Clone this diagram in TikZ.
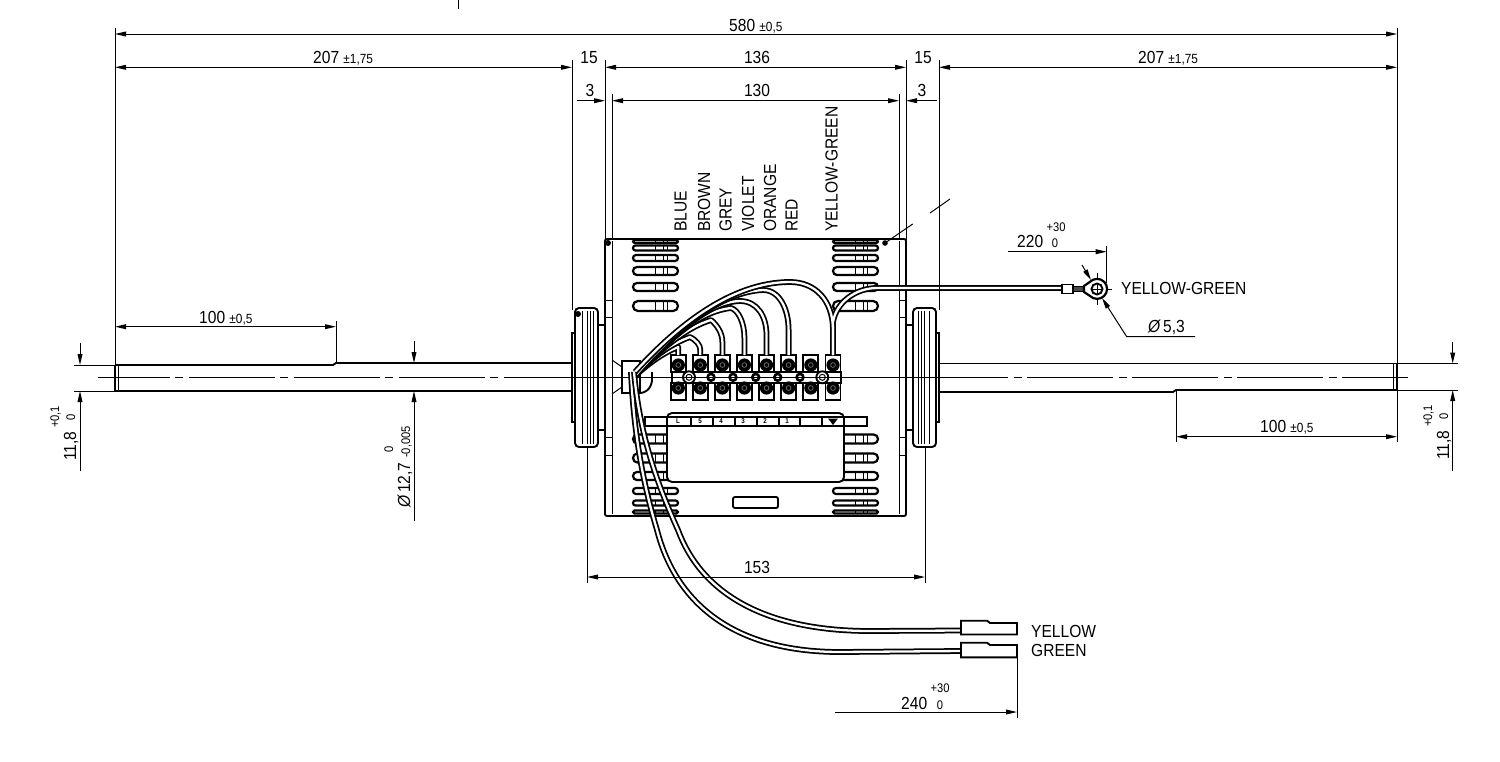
\documentclass[tikz,border=0pt]{standalone}
\usepackage{fontspec}
\setmainfont[FakeStretch=0.89]{Liberation Sans}
\usetikzlibrary{arrows.meta}
\tikzset{
    part/.style={line width=1.9pt, black},
    dim/.style={line width=1pt, black},
    thin part/.style={line width=1pt, black},
    wire/.style={line width=5.8pt, black},
    wire core/.style={line width=2.3pt, white},
    main/.style={font=\fontsize{17.5}{18}\selectfont, inner sep=0pt},
    small/.style={font=\fontsize{12.5}{13}\selectfont, inner sep=0pt},
    mark text/.style={font=\bfseries\fontsize{7}{7}\selectfont, inner sep=0pt},
    centerline/.style={line width=1pt, dash pattern=on 86pt off 5pt on 8pt off 6pt}
}
\newcommand{\wirepath}[1]{
    \draw[wire, line join=round] #1;
    \draw[wire core, line join=round] #1;
}
\newcommand{\tol}[1]{\hspace{1pt}{\fontsize{13.3}{14}\selectfont #1}}
\begin{document}
\begin{tikzpicture}[x=1pt, y=-1pt, >={Stealth[length=11pt, width=4.8pt, inset=0pt]}]
    \useasboundingbox (0,0) rectangle (1500,761);

    % Shaft.
    \draw[part] (115,365) -- (333,365) -- (336,363) -- (572,363);
    \draw[part] (115,391) -- (572,391);
    \draw[part] (939,363.5) -- (1397,363.5);
    \draw[part] (939,392) -- (1173,392) -- (1176,390) -- (1397,390);
    \draw[line width=2.4pt] (115,365) -- (115,391);
    \draw[thin part] (118.5,365) -- (118.5,391);
    \draw[line width=2.4pt] (1397,363.5) -- (1397,390);
    \draw[thin part] (1393.5,363.5) -- (1393.5,390);
    \draw[thin part] (74,365) -- (115,365);
    \draw[thin part] (74,391) -- (115,391);
    \draw[thin part] (1397,363.5) -- (1458,363.5);
    \draw[thin part] (1397,390) -- (1458,390);

    % End bells.
    \foreach \s/\o in {1/0,-1/1511} {
        \begin{scope}[xshift=\o pt, xscale=\s]
            \draw[part, rounded corners=4pt, fill=white] (575,308) rectangle (598,447);
            \draw[line width=2.6pt, fill=white] (572,333) rectangle (575,422);
            \draw[part] (598,325) -- (605,325);
            \draw[part] (598,430) -- (605,430);
            \foreach \x in {582,587,590,593}
                \draw[thin part] (\x,311) -- (\x,444);
        \end{scope}
    }
    \fill (578,314) circle (3pt);

    % Motor body.
    \draw[part, rounded corners=2pt, fill=white] (605,239) rectangle (906,516);
    \foreach \x in {612,899} {
        \draw[thin part] (\x,241) -- (\x,514);
    }
    \foreach \y in {300,317,437,455} {
        \draw[thin part] (605,\y) -- (612,\y);
        \draw[thin part] (899,\y) -- (906,\y);
    }
    \fill (608,243) circle (3pt);
    \fill (885,243) circle (2.8pt);

    % Slots.
    \foreach \sx in {633,833} {
        \foreach \sy/\sh in {241.5/3,248/5,258/6,271/8,287/8,306/10,439/9,458/9,476/8,491/6,503/5,512/3} {
            \draw[part, line width=2.2pt, rounded corners=\sh*0.49pt, fill=white] (\sx,\sy-\sh/2) rectangle (\sx+45,\sy+\sh/2);
            \foreach \t in {22,30,34}
                \draw[thin part] (\sx+\t,\sy-\sh/2) -- (\sx+\t,\sy+\sh/2);
        }
    }
    \draw[part, rounded corners=2pt] (733,497) rectangle (778,508);

    % Label strip and cover.
    \draw[part, fill=white] (645,417) rectangle (867,426);
    \draw[part, fill=white, rounded corners=5pt] (667,426) -- (667,413) -- (844,413) -- (844,482) -- (667,482) -- cycle;
    \draw[part] (667,417) -- (844,417);
    \draw[part] (667,426) -- (844,426);
    \foreach \x in {691,713,735,757,779,800,822}
        \draw[part] (\x,417) -- (\x,426);
    \foreach \x/\lab [count=\i] in {678/L,700/5,721/4,743/3,765/2,787/1}
        \node[mark text] (mark-\i) at (\x,421.5) {\lab};
    \fill (828,418.5) -- (838,418.5) -- (833,425) -- cycle;

    % Grommet.
    \draw[thin part] (612,360) -- (622,367);
    \draw[thin part] (612,394) -- (622,387);
    \draw[part, fill=white] (622,361) rectangle (640,393);
    \draw[part, rounded corners=5pt] (632,393) -- (645,393) -- (652,385) -- (652,372);

    % Terminal block.
    \draw[part, fill=white] (672,372) rectangle (841,383);
    \foreach \x [count=\i] in {678.3,700.3,722.4,744.4,766.5,788.6,810.8,833} {
        \draw[part, fill=white] (\x-7.5,355) rectangle (\x+7.5,372);
        \draw[part, fill=white] (\x-7.5,383) rectangle (\x+7.5,400);
        \fill (\x,365) circle (6.6pt);
        \fill (\x,388) circle (6.6pt);
        \draw[black!55, line width=0.7pt] (\x,365) circle (2.4pt);
        \draw[black!55, line width=0.7pt] (\x,388) circle (2.4pt);
    }
    \foreach \x in {711,733,755.7,777.7,800} {
        \draw[line width=2.6pt, fill=white] (\x,377.3) circle (3.4pt);
    }
    \foreach \x in {689,822.3} {
        \draw[part, fill=white] (\x,377.3) circle (6pt);
        \draw[thin part] (\x,377.3) circle (3pt);
    }

    % Centre line.
    \draw[centerline, dash phase=14pt] (98,377.3) -- (572,377.3);
    \draw[thin part] (572,377.3) -- (939,377.3);
    \draw[centerline, dash phase=20pt] (1408,377.3) -- (939,377.3);

    % Wires to the terminals.
    \wirepath{(635,376) .. controls (650,362) and (665,352) .. (678.3,347) -- (678.3,355)}
    \wirepath{(635,376) .. controls (650,360) and (668,345) .. (690,337) .. controls (696,340) and (700.3,345) .. (700.3,350) -- (700.3,355)}
    \wirepath{(635,376) .. controls (660,350) and (685,328) .. (711,320) .. controls (717,325) and (722.4,333) .. (722.4,342) -- (722.4,355)}
    \wirepath{(635,376) .. controls (665,345) and (695,312) .. (731,308) .. controls (738,310) and (744.4,322) .. (744.4,338) -- (744.4,355)}
    \wirepath{(635,376) .. controls (670,340) and (705,302) .. (740,301) .. controls (757,301) and (766.5,316) .. (766.5,335) -- (766.5,355)}
    \wirepath{(635,376) .. controls (675,330) and (720,292) .. (763,290) .. controls (780,290) and (788.6,310) .. (788.6,330) -- (788.6,355)}
    \draw[wire] (833,355) -- (833,322) .. controls (836,303) and (855,288) .. (877,288) -- (1062,288);
    \draw[wire] (635,372) .. controls (675,328) and (730,282) .. (790,282) .. controls (815,282) and (833,300) .. (833,330) -- (833,355);
    \draw[wire core] (833,355) -- (833,322) .. controls (836,303) and (855,288) .. (877,288) -- (1062,288);
    \draw[wire core] (635,372) .. controls (675,328) and (730,282) .. (790,282) .. controls (815,282) and (833,300) .. (833,330) -- (833,355);

    % Wires to the flat connectors.
    \wirepath{(631,372) .. controls (634,440) and (645,490) .. (657,530) .. controls (675,600) and (730,652) .. (840,652) -- (961,651)}
    \wirepath{(634,372) .. controls (640,440) and (660,490) .. (678,530) .. controls (700,590) and (760,631) .. (870,631) -- (961,630.5)}

    % Flat connectors.
    \draw[part, fill=white] (961,620.7) -- (987,620.7) -- (990,623) -- (1017,623) -- (1017,634.5) -- (961,634.5) -- cycle;
    \draw[part, fill=white] (961,642.7) -- (987,642.7) -- (990,645) -- (1017,645) -- (1017,657.3) -- (961,657.3) -- cycle;
    \node[main, anchor=west] (yellow) at (1031,631) {YELLOW};
    \node[main, anchor=west] (green) at (1031,650) {GREEN};

    % Ring terminal.
    \draw[part, fill=white] (1062,284.5) rectangle (1073,293.5);
    \draw[line width=1.6pt, fill=black!70] (1073,286.5) rectangle (1084,291.5);
    \draw[part, line width=2.2pt, fill=white] (1084,286) -- (1090,281.8) arc (135:-135:10pt) -- (1084,292) -- cycle;
    \draw[part, fill=white] (1097,289) circle (5.5pt);
    \draw[thin part] (1097,273) -- (1097,278);
    \draw[thin part] (1097,300) -- (1097,305);
    \draw[thin part] (1097,284) -- (1097,294);
    \draw[thin part] (1092,289) -- (1102,289);
    \draw[thin part] (1108,289) -- (1112,289);
    \node[main, anchor=west] (yellow-green) at (1121,288) {YELLOW-GREEN};

    % Overall dimensions.
    \draw[dim] (115,28) -- (115,365);
    \draw[dim] (1397,28) -- (1397,442);
    \draw[dim] (572,60) -- (572,310);
    \draw[dim] (605,60) -- (605,240);
    \draw[dim] (612,94) -- (612,240);
    \draw[dim] (899,94) -- (899,240);
    \draw[dim] (906,60) -- (906,240);
    \draw[dim] (939,60) -- (939,310);
    \draw[dim] (458,0) -- (458,9);
    \draw[dim, <->] (115,34) -- (1397,34);
    \draw[dim, <->] (115,67.3) -- (572,67.3);
    \draw[dim, <->] (605,67.3) -- (906,67.3);
    \draw[dim, <->] (939,67.3) -- (1397,67.3);
    \draw[dim, <->] (612,100.7) -- (899,100.7);
    \draw[dim, ->] (577,100.7) -- (605,100.7);
    \draw[dim, <-] (906,100.7) -- (937,100.7);
    \node[main, anchor=base west] (d-580) at (729,31) {580\tol{ ±0,5}};
    \node[main, anchor=base west] (d-207l) at (313,63) {207\tol{ ±1,75}};
    \node[main, anchor=base west] (d-207r) at (1138,63) {207\tol{ ±1,75}};
    \node[main, anchor=base] (d-15l) at (589,63) {15};
    \node[main, anchor=base] (d-136) at (757,63) {136};
    \node[main, anchor=base] (d-15r) at (923,63) {15};
    \node[main, anchor=base] (d-3l) at (590,96) {3};
    \node[main, anchor=base] (d-130) at (757,96) {130};
    \node[main, anchor=base] (d-3r) at (922,96) {3};

    % Wire names.
    \foreach \x/\lab [count=\i] in {680.7/BLUE,704/BROWN,725.7/GREY,748/VIOLET,770/ORANGE,791.7/RED,831.7/YELLOW-GREEN}
        \node[main, rotate=90, anchor=west] (name-\i) at (\x,232) {\lab};
    \draw[dim] (885,243) -- (912.7,224);
    \draw[dim] (930,213) -- (950,199);

    % Shaft dimensions.
    \draw[dim] (336,321) -- (336,363);
    \draw[dim, <->] (115,326.7) -- (336,326.7);
    \node[main, anchor=base west] (d-100l) at (199,323) {100\tol{ ±0,5}};
    \draw[dim] (1176,390) -- (1176,442);
    \draw[dim, <->] (1176,436.7) -- (1397,436.7);
    \node[main, anchor=base west] (d-100r) at (1260,432) {100\tol{ ±0,5}};

    \foreach \x/\ya/\yb in {80/365/391,1452.7/363.5/390} {
        \draw[dim, ->] (\x,\ya-22) -- (\x,\ya);
        \draw[dim, ->] (\x,471) -- (\x,\yb);
    }
    \node[main, rotate=90, anchor=base west] (d-118l) at (76,461) {11,8};
    \node[small, rotate=90, anchor=base west] (d-118l-up) at (59,428) {+0,1};
    \node[small, rotate=90, anchor=base west] (d-118l-lo) at (75,421) {0};
    \node[main, rotate=90, anchor=base west] (d-118r) at (1449,460) {11,8};
    \node[small, rotate=90, anchor=base west] (d-118r-up) at (1432,427) {+0,1};
    \node[small, rotate=90, anchor=base west] (d-118r-lo) at (1448,420) {0};

    \draw[dim, ->] (414,341) -- (414,363);
    \draw[dim, ->] (414,521) -- (414,391);
    \node[main, rotate=90, anchor=base west] (d-127) at (410,508) {{\itshape Ø}\,12,7};
    \node[small, rotate=90, anchor=base west] (d-127-up) at (393,453) {0};
    \node[small, rotate=90, anchor=base west] (d-127-lo) at (410,458) {-0,005};

    % Bell dimension.
    \draw[dim] (587,447) -- (587,583);
    \draw[dim] (925,447) -- (925,583);
    \draw[dim, <->] (587,577) -- (925,577);
    \node[main, anchor=base] (d-153) at (757,573) {153};

    % Lug dimensions.
    \draw[dim] (1106.7,246) -- (1106.7,283);
    \draw[dim, ->] (1008,251.7) -- (1106.7,251.7);
    \node[main, anchor=base west] (d-220) at (1017,247) {220};
    \node[small, anchor=base] (d-220-up) at (1056,231) {+30};
    \node[small, anchor=base] (d-220-lo) at (1055,247) {0};
    \draw[dim, ->] (1082,265) -- (1091,280);
    \draw[dim, ->] (1195,336.7) -- (1126.7,336.7) -- (1102,298);
    \node[main, anchor=base west] (d-53) at (1148,332) {{\itshape Ø}\,5,3};

    % Cable dimension.
    \draw[dim] (1017,650) -- (1017,718);
    \draw[dim, ->] (835,712) -- (1017,712);
    \node[main, anchor=base west] (d-240) at (901,709) {240};
    \node[small, anchor=base] (d-240-up) at (940,692) {+30};
    \node[small, anchor=base] (d-240-lo) at (940,709) {0};
\end{tikzpicture}
\end{document}
